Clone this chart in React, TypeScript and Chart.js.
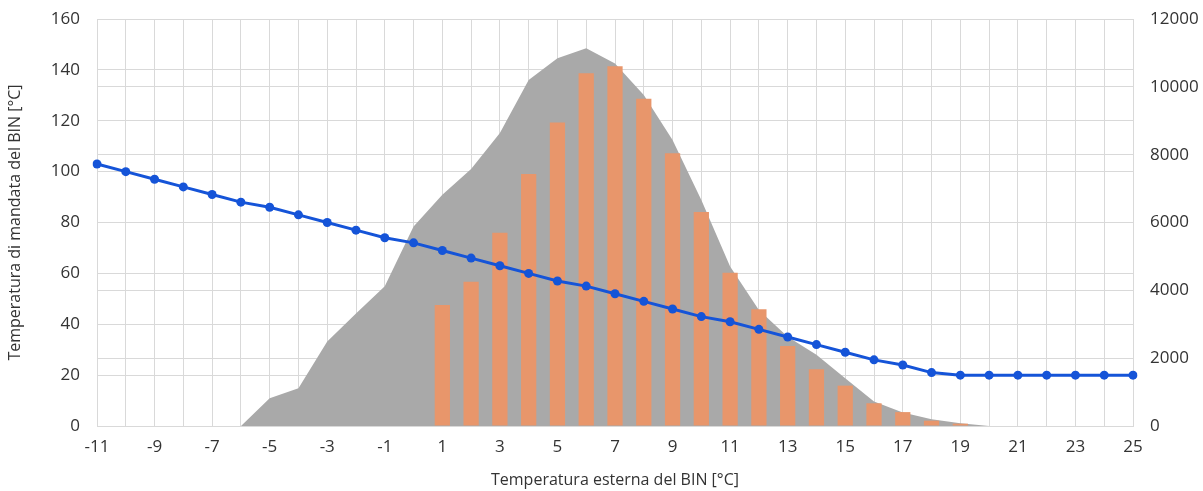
import React, { useEffect, useRef } from "react";
import { Chart, registerables } from "chart.js";

Chart.register(...registerables);

const categories: string[] = [
  "-11", "-10", "-9", "-8", "-7", "-6", "-5", "-4", "-3", "-2", "-1", "0",
  "1", "2", "3", "4", "5", "6", "7", "8", "9", "10", "11", "12", "13", "14",
  "15", "16", "17", "18", "19", "20", "21", "22", "23", "24", "25",
];

// Temperatura di mandata del BIN [°C] (left axis)
const supplyTemp: number[] = [
  103, 100, 97, 94, 91, 88, 86, 83, 80, 77, 74, 72,
  69, 66, 63, 60, 57, 55, 52, 49, 46, 43, 41, 38, 35, 32,
  29, 26, 24, 21, 20, 20, 20, 20, 20, 20, 20,
];

// Gray area (right axis)
const areaValues: (number | null)[] = [
  null, null, null, null, null, 0, 820, 1110, 2490, 3320, 4120, 5880,
  6820, 7580, 8640, 10200, 10840, 11140, 10690, 9760, 8430, 6660, 4700, 3420, 2630, 2100,
  1410, 720, 400, 200, 80, 0, null, null, null, null, null,
];

// Orange bars (right axis)
const barValues: (number | null)[] = [
  null, null, null, null, null, null, null, null, null, null, null, null,
  3570, 4250, 5700, 7430, 8950, 10400, 10610, 9650, 8040, 6310, 4520, 3440, 2360, 1670,
  1190, 670, 410, 157, 68, null, null, null, null, null, null,
];

const leftTitle = "Temperatura di mandata del BIN [°C]";
const xTitle = "Temperatura esterna del BIN [°C]";

const FONT = "'Open Sans', 'Noto Sans', sans-serif";
const TEXT = "#333333";
const GRID = "#d9d9d9";

export default function App() {
  const ref = useRef<HTMLCanvasElement | null>(null);

  useEffect(() => {
    if (!ref.current) return;
    const chart = new Chart(ref.current, {
      type: "bar",
      data: {
        labels: categories,
        datasets: [
          {
            type: "line",
            data: supplyTemp,
            yAxisID: "y",
            borderColor: "#1554d8",
            backgroundColor: "#1554d8",
            borderWidth: 3,
            pointRadius: 4.5,
            pointBorderWidth: 0,
            pointBackgroundColor: "#1554d8",
            tension: 0,
            order: 0,
          } as any,
          {
            type: "bar",
            data: barValues,
            yAxisID: "y1",
            backgroundColor: "#e8966b",
            borderWidth: 0,
            categoryPercentage: 1,
            barPercentage: 0.53,
            order: 1,
          } as any,
          {
            type: "line",
            data: areaValues,
            yAxisID: "y1",
            borderWidth: 0,
            borderColor: "rgba(0,0,0,0)",
            backgroundColor: "#a9a9a9",
            pointRadius: 0,
            fill: "origin",
            tension: 0,
            order: 2,
          } as any,
        ],
      },
      options: {
        animation: false,
        responsive: true,
        maintainAspectRatio: false,
        layout: { padding: { top: 19, right: 0, bottom: 0, left: 0 } },
        plugins: {
          legend: { display: false },
          tooltip: { enabled: false },
        },
        scales: {
          x: {
            type: "category",
            offset: false,
            grid: { color: GRID, lineWidth: 1, drawTicks: false, offset: false },
            border: { color: GRID },
            ticks: {
              autoSkip: false,
              maxRotation: 0,
              minRotation: 0,
              padding: 11,
              color: TEXT,
              font: { family: FONT, size: 17 },
              callback: (_v: any, i: number) => (i % 2 === 0 ? categories[i] : ""),
            },
            title: {
              display: true,
              text: xTitle,
              color: TEXT,
              font: { family: FONT, size: 16 },
              padding: { top: 0, bottom: 1 },
            },
            afterFit: (s: any) => {
              s.height = 65;
              s.paddingLeft = 0;
              s.paddingRight = 0;
            },
          } as any,
          y: {
            position: "left",
            min: 0,
            max: 160,
            grid: { color: GRID, lineWidth: 1, drawTicks: false },
            border: { color: GRID },
            ticks: {
              stepSize: 20,
              padding: 17,
              color: TEXT,
              font: { family: FONT, size: 17 },
            },
            title: {
              display: true,
              text: leftTitle,
              color: TEXT,
              font: { family: FONT, size: 16 },
              padding: { top: 6, bottom: 0 },
            },
            afterFit: (s: any) => {
              s.width = 97;
              s.paddingTop = 0;
              s.paddingBottom = 0;
            },
          } as any,
          y1: {
            position: "right",
            min: 0,
            max: 12000,
            grid: { color: GRID, lineWidth: 1, drawTicks: false },
            border: { color: GRID },
            ticks: {
              stepSize: 2000,
              padding: 17,
              color: TEXT,
              font: { family: FONT, size: 17 },
              callback: (v: any) => String(v),
            },
            afterFit: (s: any) => {
              s.width = 70;
              s.paddingTop = 0;
              s.paddingBottom = 0;
            },
          } as any,
        },
      },
    });
    return () => chart.destroy();
  }, []);

  return (
    <div style={{ position: "fixed", left: 0, top: 0, width: 1203, height: 491, background: "#fff" }}>
      <canvas ref={ref} />
    </div>
  );
}
